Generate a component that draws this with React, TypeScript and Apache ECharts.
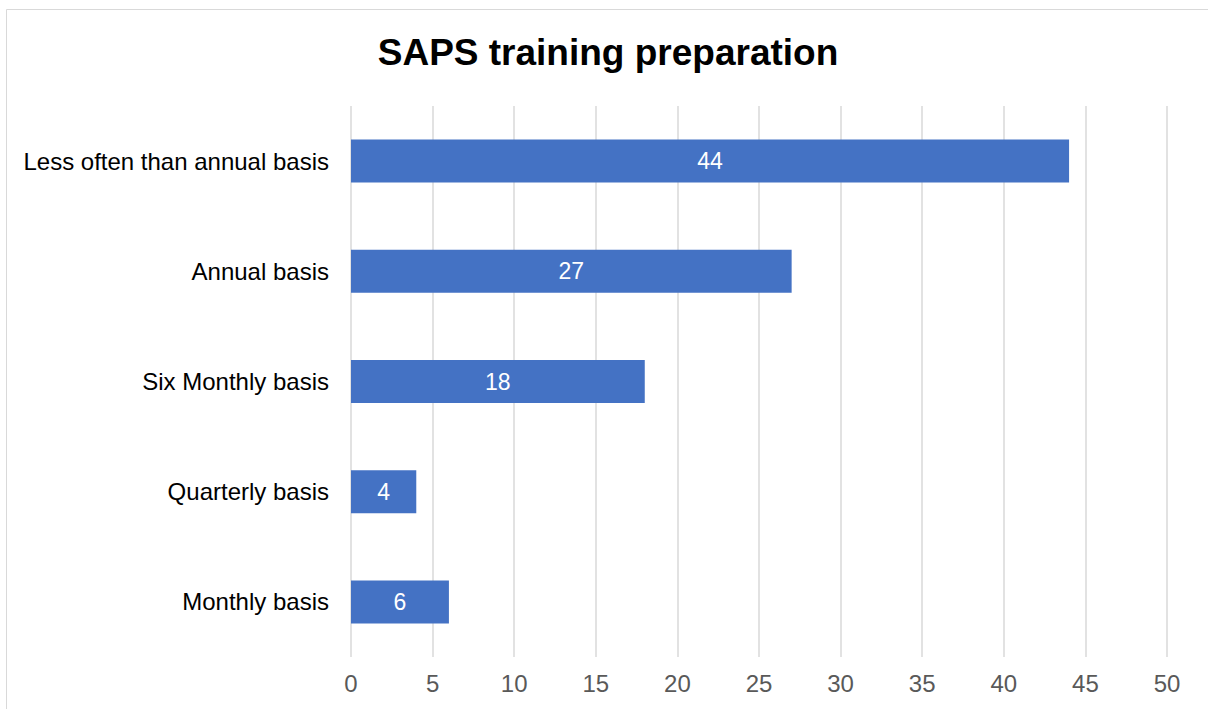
import React, { useEffect, useRef } from "react";
import * as echarts from "echarts";

const categories = ["Monthly basis", "Quarterly basis", "Six Monthly basis", "Annual basis", "Less often than annual basis"];
const values = [6, 4, 18, 27, 44];
const titleText = "SAPS training preparation";

export default function App() {
  const ref = useRef<HTMLDivElement>(null);
  useEffect(() => {
    document.body.style.margin = "0";
    const chart = echarts.init(ref.current!, null, { renderer: "svg" });
    const ff = "Liberation Sans, Arial, sans-serif";
    chart.setOption({
      animation: false,
      backgroundColor: "#ffffff",
      title: {
        text: titleText,
        left: 603,
        textAlign: "center",
        top: 29,
        textStyle: { fontFamily: ff, fontSize: 37, fontWeight: "bold", color: "#000000" },
      },
      graphic: [
        {
          type: "rect",
          shape: { x: 6.5, y: 9.5, width: 1400, height: 900 },
          style: { fill: "none", stroke: "#d9d9d9", lineWidth: 1 },
          silent: true,
        },
      ],
      grid: { left: 351, right: 41, top: 106, bottom: 52, containLabel: false },
      xAxis: {
        type: "value",
        min: 0,
        max: 50,
        interval: 5,
        axisLine: { show: false },
        axisTick: { show: false },
        splitLine: { show: true, lineStyle: { color: "#d9d9d9", width: 1.5 } },
        axisLabel: { color: "#595959", fontSize: 24, margin: 14, fontFamily: ff },
      },
      yAxis: {
        type: "category",
        data: categories,
        axisLine: { show: false },
        axisTick: { show: false },
        splitLine: { show: false },
        axisLabel: { color: "#000000", fontSize: 24, margin: 22, fontFamily: ff },
      },
      series: [
        {
          type: "bar",
          data: values,
          barWidth: "39%",
          itemStyle: { color: "#4472C4" },
          label: {
            show: true,
            position: "inside",
            color: "#ffffff",
            fontSize: 23,
            fontFamily: ff,
          },
        },
      ],
    });
    return () => chart.dispose();
  }, []);
  return <div ref={ref} style={{ width: 1208, height: 709 }} />;
}
